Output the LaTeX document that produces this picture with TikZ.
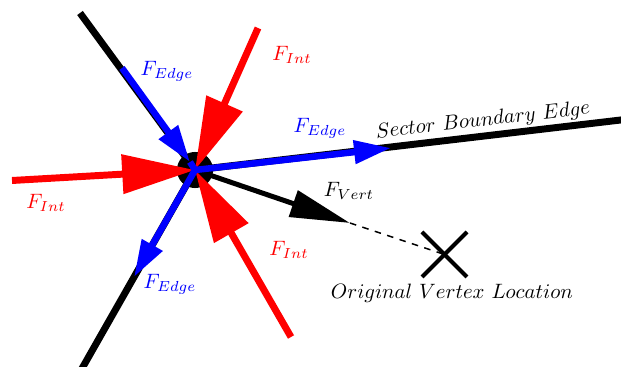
\documentclass[tikz,border=0pt]{standalone}
\usetikzlibrary{arrows.meta}
\begin{document}
\begin{tikzpicture}[x=0.46pt,y=-0.46pt,
  edgeline/.style={black,line width=3.2pt},
  bluearr/.style={blue,line width=3pt},
  redarr/.style={red,line width=3.2pt,-{Triangle[length=33.5pt,width=17.5pt]}},
  bluetip/.style={-{Triangle[length=17pt,width=10.3pt]}},
  vertarr/.style={black,line width=2.3pt,-{Triangle[length=27.6pt,width=12.4pt]}},
  crossline/.style={black,line width=1.8pt},
  lab/.style={inner sep=0pt,scale=0.956}]
\clip (0,0) rectangle (621,367);
% coordinates
\coordinate (v) at (195,170);
\coordinate (ulend) at (80,13);
\coordinate (ulb) at (122,68);
\coordinate (ult) at (190,162);
\coordinate (rt) at (391,148);
\coordinate (rend) at (625,119.5);
\coordinate (llt) at (134,277);
\coordinate (llend) at (80,372);
\coordinate (r1) at (258,28);
\coordinate (r2) at (12,180.5);
\coordinate (r3) at (291,337);
\coordinate (vt) at (350,223);
\coordinate (ov) at (444.5,254.5);
\coordinate (c1) at (422,232);
\coordinate (c2) at (467,277);
\coordinate (c3) at (467,232);
\coordinate (c4) at (422,277);
% black sector edges
\draw[edgeline] (ulend) -- (v);
\draw[edgeline] (v) -- (rend);
\draw[edgeline] (v) -- (llend);
% vertex dot
\fill[black] (v) circle[radius=8.3pt];
% vertex force
\draw[vertarr] (v) -- (vt);
\draw[black,line width=0.7pt,dashed] (vt) -- (ov);
\draw[crossline] (c1) -- (c2);
\draw[crossline] (c3) -- (c4);
% interior forces
\draw[redarr] (r1) -- (v);
\draw[redarr] (r2) -- (v);
\draw[redarr] (r3) -- (v);
% edge forces
\draw[bluearr,bluetip] (ulb) -- (ult);
\draw[bluearr] (ult) -- (v);
\draw[bluearr,bluetip] (v) -- (rt);
\draw[bluearr,bluetip] (v) -- (llt);
% labels
\node[lab,blue] (le1) at (167,71) {$F_{Edge}$};
\node[lab,blue] (le2) at (320,128) {$F_{Edge}$};
\node[lab,blue] (le3) at (170,284) {$F_{Edge}$};
\node[lab,red] (li1) at (292,55) {$F_{Int}$};
\node[lab,red] (li2) at (46,203) {$F_{Int}$};
\node[lab,red] (li3) at (289,250) {$F_{Int}$};
\node[lab] (lv) at (349,191) {$F_{Vert}$};
\node[lab] (lo) at (452,293) {$Original\ Vertex\ Location$};
\node[lab,rotate=6.6] (ls) at (483,121) {$Sector\ Boundary\ Edge$};
\end{tikzpicture}
\end{document}
